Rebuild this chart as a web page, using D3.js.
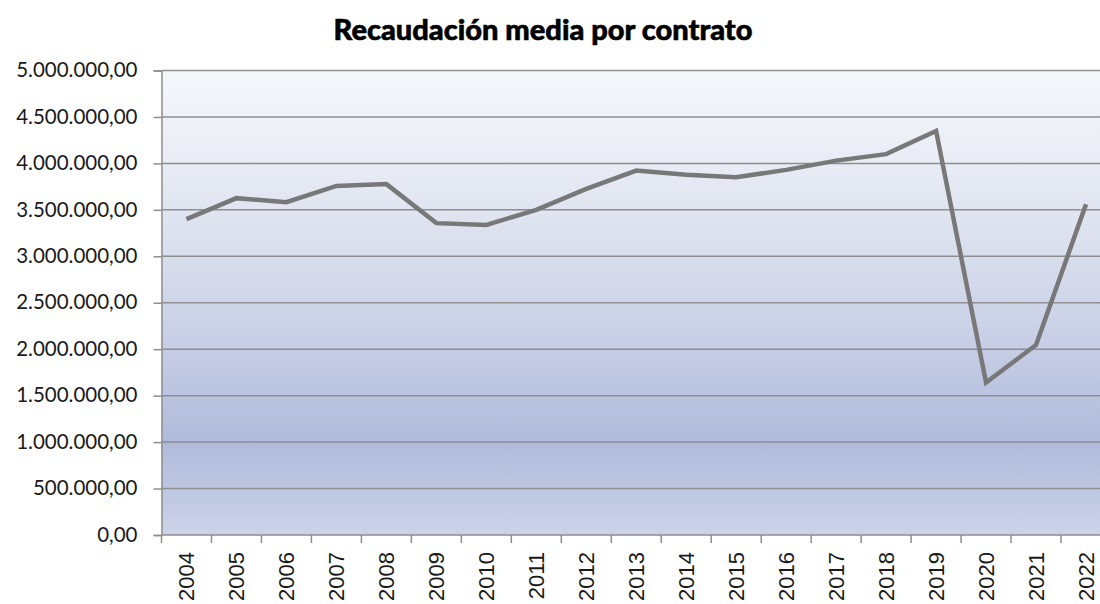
<!DOCTYPE html>
<html>
<head>
<meta charset="utf-8">
<script src="https://cdn.jsdelivr.net/npm/d3@7"></script>
<style>
  html, body { margin: 0; padding: 0; background: #ffffff; }
  svg { display: block; }
</style>
</head>
<body>
<svg id="chart" width="1100" height="604"></svg>
<script>
const title = "Recaudación media por contrato";
const years = ["2004","2005","2006","2007","2008","2009","2010","2011","2012","2013","2014","2015","2016","2017","2018","2019","2020","2021","2022"];
const values = [3400000, 3626000, 3583000, 3758000, 3777000, 3357000, 3338000, 3500000, 3725000, 3923000, 3877000, 3852000, 3930000, 4030000, 4100000, 4350000, 1640000, 2046000, 3560000];
const yTicks = [0, 500000, 1000000, 1500000, 2000000, 2500000, 3000000, 3500000, 4000000, 4500000, 5000000];

(function () {
const svg = d3.select("#chart");
const mLeft = 161.5, mRight = 1111, mTop = 70.5, mBottom = 535;

const esLocale = d3.formatLocale({decimal: ",", thousands: ".", grouping: [3], currency: ["", " €"]});
const fmt = esLocale.format(",.2f");

const x = d3.scaleBand().domain(years).range([mLeft, mRight]);
const y = d3.scaleLinear().domain([0, 5000000]).range([mBottom, mTop]);

// background gradient
const defs = svg.append("defs");
const grad = defs.append("linearGradient").attr("id", "bg").attr("x1", 0).attr("y1", 0).attr("x2", 0).attr("y2", 1);
[[0, "#f6f7fb"], [0.2, "#e9ecf5"], [0.4, "#d9deed"], [0.6, "#c6cde5"], [0.8, "#afbbdb"], [1, "#ccd3e8"]]
  .forEach(([o, c]) => grad.append("stop").attr("offset", o).attr("stop-color", c));

svg.append("rect").attr("x", mLeft).attr("y", mTop).attr("width", mRight - mLeft).attr("height", mBottom - mTop)
  .attr("fill", "url(#bg)");

// gridlines
svg.append("g").selectAll("line").data(yTicks.filter(d => d > 0)).join("line")
  .attr("x1", mLeft).attr("x2", mRight)
  .attr("y1", d => y(d)).attr("y2", d => y(d))
  .attr("stroke", "#8e8e8e").attr("stroke-width", 1.5);

// y axis
const yAxis = svg.append("g").attr("transform", `translate(${mLeft},0)`)
  .call(d3.axisLeft(y).tickValues(yTicks).tickFormat(fmt).tickSize(8).tickPadding(16));
yAxis.select(".domain").attr("stroke", "#8e8e8e").attr("stroke-width", 1.5);
yAxis.selectAll(".tick line").attr("stroke", "#8e8e8e").attr("stroke-width", 1.5);
yAxis.selectAll(".tick text")
  .attr("font-family", "Lato, sans-serif").attr("font-size", 20.5).attr("fill", "#1a1a1a")
  .attr("dy", "0.3em");

// x axis baseline
svg.append("line").attr("x1", mLeft).attr("x2", mRight).attr("y1", mBottom).attr("y2", mBottom)
  .attr("stroke", "#8e8e8e").attr("stroke-width", 1.5);

// x ticks at category boundaries
const bounds = years.map(d => x(d)).concat([x.range()[1]]);
svg.append("g").selectAll("line").data(bounds).join("line")
  .attr("x1", d => d).attr("x2", d => d).attr("y1", mBottom).attr("y2", mBottom + 8)
  .attr("stroke", "#8e8e8e").attr("stroke-width", 1.5);

// x labels
const xAxis = svg.append("g").attr("transform", `translate(0,${mBottom})`)
  .call(d3.axisBottom(x).tickSize(0).tickPadding(0));
xAxis.select(".domain").remove();
xAxis.selectAll(".tick text")
  .attr("font-family", "'Liberation Sans', Arial, sans-serif").attr("font-size", 22).attr("fill", "#1a1a1a")
  .attr("text-anchor", "end")
  .attr("transform", "rotate(-90)")
  .attr("x", -17).attr("y", 0).attr("dy", "0.36em");

// line
const line = d3.line().x((d, i) => x(years[i]) + x.bandwidth() / 2).y(d => y(d));
svg.append("path").datum(values).attr("d", line)
  .attr("fill", "none").attr("stroke", "#787878").attr("stroke-width", 4.5)
  .attr("stroke-linejoin", "miter");

// title
svg.append("text").attr("x", 543).attr("y", 40).attr("text-anchor", "middle")
  .attr("font-family", "Lato, sans-serif").attr("font-weight", 900).attr("font-size", 29)
  .attr("fill", "#000").attr("stroke", "#000").attr("stroke-width", 0.6).text(title);
})();
</script>
</body>
</html>
